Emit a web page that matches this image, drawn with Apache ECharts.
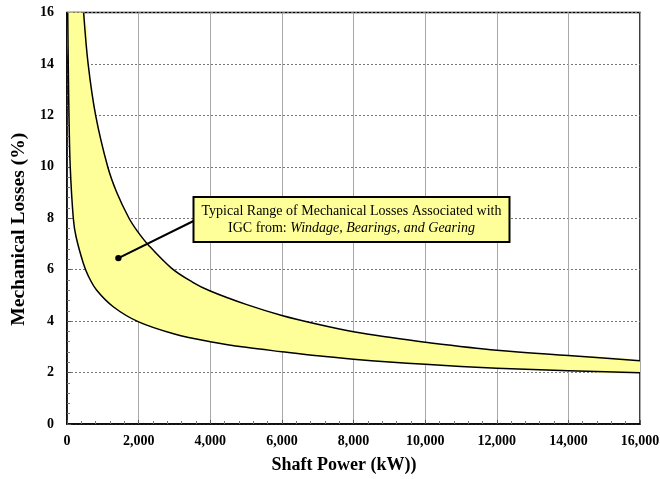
<!DOCTYPE html>
<html><head><meta charset="utf-8">
<script src="https://cdn.jsdelivr.net/npm/echarts@6/dist/echarts.min.js"></script>
<style>html,body{margin:0;padding:0;background:#fff}#c{width:660px;height:479px}</style>
</head><body><div id="c"></div>
<script>
// Upper bound curve (Shaft Power kW, Mechanical Losses %)
const upperX = [464, 590, 800, 1137, 1390, 1732, 1964, 2272, 2924, 3500, 4000, 5000, 6000, 7000, 8000, 9000, 10000, 12000, 14000, 16000];
const upperY = [16, 14, 12, 10, 9, 8, 7.5, 6.96, 6.05, 5.52, 5.17, 4.65, 4.22, 3.88, 3.59, 3.37, 3.18, 2.87, 2.66, 2.46];
// Lower bound curve
const lowerX = [20, 35, 55, 90, 176, 250, 455, 600, 830, 1300, 2000, 3000, 4000, 5000, 6000, 7000, 8000, 9000, 10000, 12000, 14000, 16000];
const lowerY = [16, 14, 12, 10, 8, 7.3, 6.25, 5.74, 5.2, 4.55, 3.97, 3.5, 3.2, 2.98, 2.81, 2.65, 2.52, 2.41, 2.32, 2.17, 2.07, 1.99];
const xTickLabels = ['0', '2,000', '4,000', '6,000', '8,000', '10,000', '12,000', '14,000', '16,000'];
const yTickLabels = ['0', '2', '4', '6', '8', '10', '12', '14', '16'];
const annotationPoint = [1435, 6.45];
const annotationLine1 = 'Typical Range of Mechanical Losses Associated with';
const annotationLine2a = 'IGC from: ';
const annotationLine2b = 'Windage, Bearings, and Gearing';

const upperData = upperX.map((x, i) => [x, upperY[i]]);
const lowerData = lowerX.map((x, i) => [x, lowerY[i]]);
const polyData = upperData.concat(lowerData.slice().reverse());

const SMOOTH = 0.35;
const FONT = '"Liberation Serif", "Times New Roman", serif';
const chart = echarts.init(document.getElementById('c'), null, {renderer: 'canvas'});

function curveSeries(name, data, z) {
  return {
    type: 'custom', name: name, clip: true, z: z, data: data,
    renderItem: function (params, api) {
      if (params.dataIndex !== 0) return null;
      const pts = data.map(p => api.coord(p));
      return {type: 'polyline', shape: {points: pts, smooth: SMOOTH}, style: {stroke: '#000', lineWidth: 1.5, fill: null}};
    }
  };
}

const option = {
  animation: false,
  backgroundColor: '#ffffff',
  grid: {left: 67, right: 20, top: 12.5, bottom: 55, containLabel: false, outerBoundsMode: 'none',
    show: true, borderColor: '#000', borderWidth: 1.5, backgroundColor: 'transparent'},
  xAxis: {
    type: 'value', min: 0, max: 16000, interval: 2000,
    name: 'Shaft Power (kW))', nameLocation: 'middle', nameGap: 32,
    nameTextStyle: {fontFamily: FONT, fontWeight: 'bold', fontSize: 18, color: '#000', padding: [0, 19, 0, 0]},
    axisLine: {show: true, lineStyle: {color: '#000', width: 1.5}},
    axisTick: {show: true, inside: true, length: 4, lineStyle: {color: '#555'}},
    minorTick: {show: true, splitNumber: 5, length: 3, lineStyle: {color: '#777'}},
    axisLabel: {fontFamily: FONT, fontWeight: 'bold', fontSize: 14, color: '#000', margin: 10,
      formatter: v => xTickLabels[Math.round(v / 2000)]},
    splitLine: {show: true, lineStyle: {color: '#a8a8a8', width: 1, type: 'solid'}}
  },
  yAxis: {
    type: 'value', min: 0, max: 16, interval: 2,
    name: 'Mechanical Losses (%)', nameLocation: 'middle', nameGap: 38,
    nameTextStyle: {fontFamily: FONT, fontWeight: 'bold', fontSize: 19.5, color: '#000', padding: [0, 22, 0, 0]},
    axisLine: {show: true, lineStyle: {color: '#000', width: 1.5}},
    axisTick: {show: true, inside: true, length: 4, lineStyle: {color: '#555'}},
    minorTick: {show: true, splitNumber: 5, length: 3, lineStyle: {color: '#777'}},
    axisLabel: {fontFamily: FONT, fontWeight: 'bold', fontSize: 14, color: '#000', margin: 13,
      formatter: v => yTickLabels[Math.round(v / 2)]},
    splitLine: {show: true, lineStyle: {color: '#777', width: 1, type: [2, 2]}}
  },
  series: [
    {
      type: 'custom', name: 'range', clip: true, z: 1,
      data: polyData,
      renderItem: function (params, api) {
        if (params.dataIndex !== 0) return null;
        const pts = polyData.map(p => api.coord(p));
        return {type: 'polygon', shape: {points: pts, smooth: SMOOTH}, style: {fill: '#FFFF99', stroke: null}};
      }
    },
    curveSeries('upper', upperData, 3),
    curveSeries('lower', lowerData, 3)
  ]
};
chart.setOption(option);

const dot = chart.convertToPixel({gridIndex: 0}, annotationPoint);
const box = {x: 193.5, y: 197, w: 316, h: 45};
chart.setOption({
  graphic: [
    {type: 'line', z: 100, shape: {x1: box.x, y1: 221, x2: dot[0], y2: dot[1]}, style: {stroke: '#000', lineWidth: 2}},
    {type: 'circle', z: 101, shape: {cx: dot[0], cy: dot[1], r: 3.2}, style: {fill: '#000'}},
    {type: 'rect', z: 102, shape: {x: box.x, y: box.y, width: box.w, height: box.h}, style: {fill: '#FFFF99', stroke: '#000', lineWidth: 2}},
    {type: 'text', z: 103, x: box.x + box.w / 2, y: box.y + box.h / 2,
      style: {
        text: '{n|' + annotationLine1 + '}\n{n|' + annotationLine2a + '}{i|' + annotationLine2b + '}',
        align: 'center', verticalAlign: 'middle',
        rich: {
          n: {fontFamily: FONT, fontSize: 14, fill: '#000', lineHeight: 17},
          i: {fontFamily: FONT, fontSize: 14, fontStyle: 'italic', fill: '#000', lineHeight: 17}
        }
      }}
  ]
});
</script>
</body></html>
